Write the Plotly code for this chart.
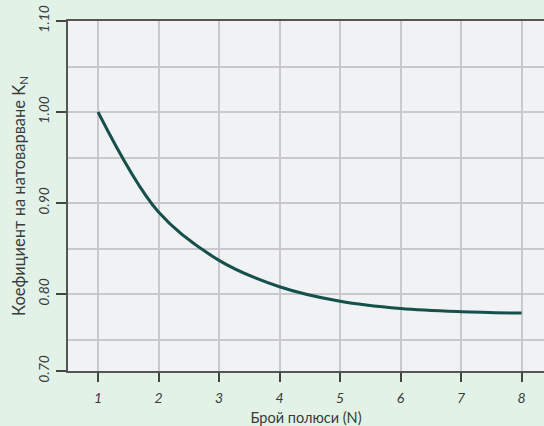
import plotly.graph_objects as go

poles = [1, 2, 3, 4, 5, 6, 7, 8]
k_n = [1.000, 0.890, 0.837, 0.808, 0.792, 0.784, 0.7805, 0.779]

y_tick_vals = [0.7154, 0.80, 0.90, 1.00, 1.10]
y_tick_text = ["0.70", "0.80", "0.90", "1.00", "1.10"]
x_tick_vals = [1, 2, 3, 4, 5, 6, 7, 8]
x_tick_text = ["1", "2", "3", "4", "5", "6", "7", "8"]

FONT = "Lato"
TXT = "#3a3a3a"

fig = go.Figure()
fig.add_trace(go.Scatter(
    x=poles, y=k_n, mode="lines",
    line=dict(color="#15504c", width=3, shape="spline", smoothing=1.0),
    hoverinfo="skip", showlegend=False,
))

fig.update_layout(
    width=544, height=426,
    paper_bgcolor="#e2f2e6",
    plot_bgcolor="#f1f2f4",
    margin=dict(l=68, r=0, t=21, b=55),
    font=dict(family=FONT, color=TXT, size=13),
    xaxis=dict(
        range=[0.504, 8.37],
        tickvals=x_tick_vals, ticktext=x_tick_text,
        tickfont=dict(family=FONT, size=14, color=TXT, style="italic"),
        ticks="outside", ticklen=9, tickwidth=1.5, tickcolor="#444",
        ticklabelstandoff=4,
        showline=True, linecolor="#555", linewidth=2, mirror=True,
        showgrid=True, gridcolor="#c9c9cc", gridwidth=1.5,
        zeroline=False,
        title=dict(text="Брой полюси (N)", font=dict(family=FONT, size=14.5, color=TXT), standoff=8),
    ),
    yaxis=dict(
        range=[0.7154, 1.10],
        tickvals=y_tick_vals, ticktext=y_tick_text,
        tickangle=-90,
        tickfont=dict(family=FONT, size=14, color=TXT, style="italic"),
        ticks="outside", ticklen=10, tickwidth=1.5, tickcolor="#444",
        ticklabelstandoff=1,
        showline=True, linecolor="#555", linewidth=2,
        showgrid=True, gridcolor="#c9c9cc", gridwidth=1.5,
        minor=dict(tickvals=[0.75, 0.85, 0.95, 1.05], showgrid=True,
                   gridcolor="#c9c9cc", gridwidth=1.5, ticks=""),
        zeroline=False,
        title=dict(text="Коефициент на натоварване K<sub>N</sub>",
                   font=dict(family=FONT, size=16.5, color=TXT), standoff=6),
    ),
)

fig.write_html("out.html", config={"displayModeBar": False},
               post_script="document.body.style.margin='0';document.body.style.overflow='hidden';")
